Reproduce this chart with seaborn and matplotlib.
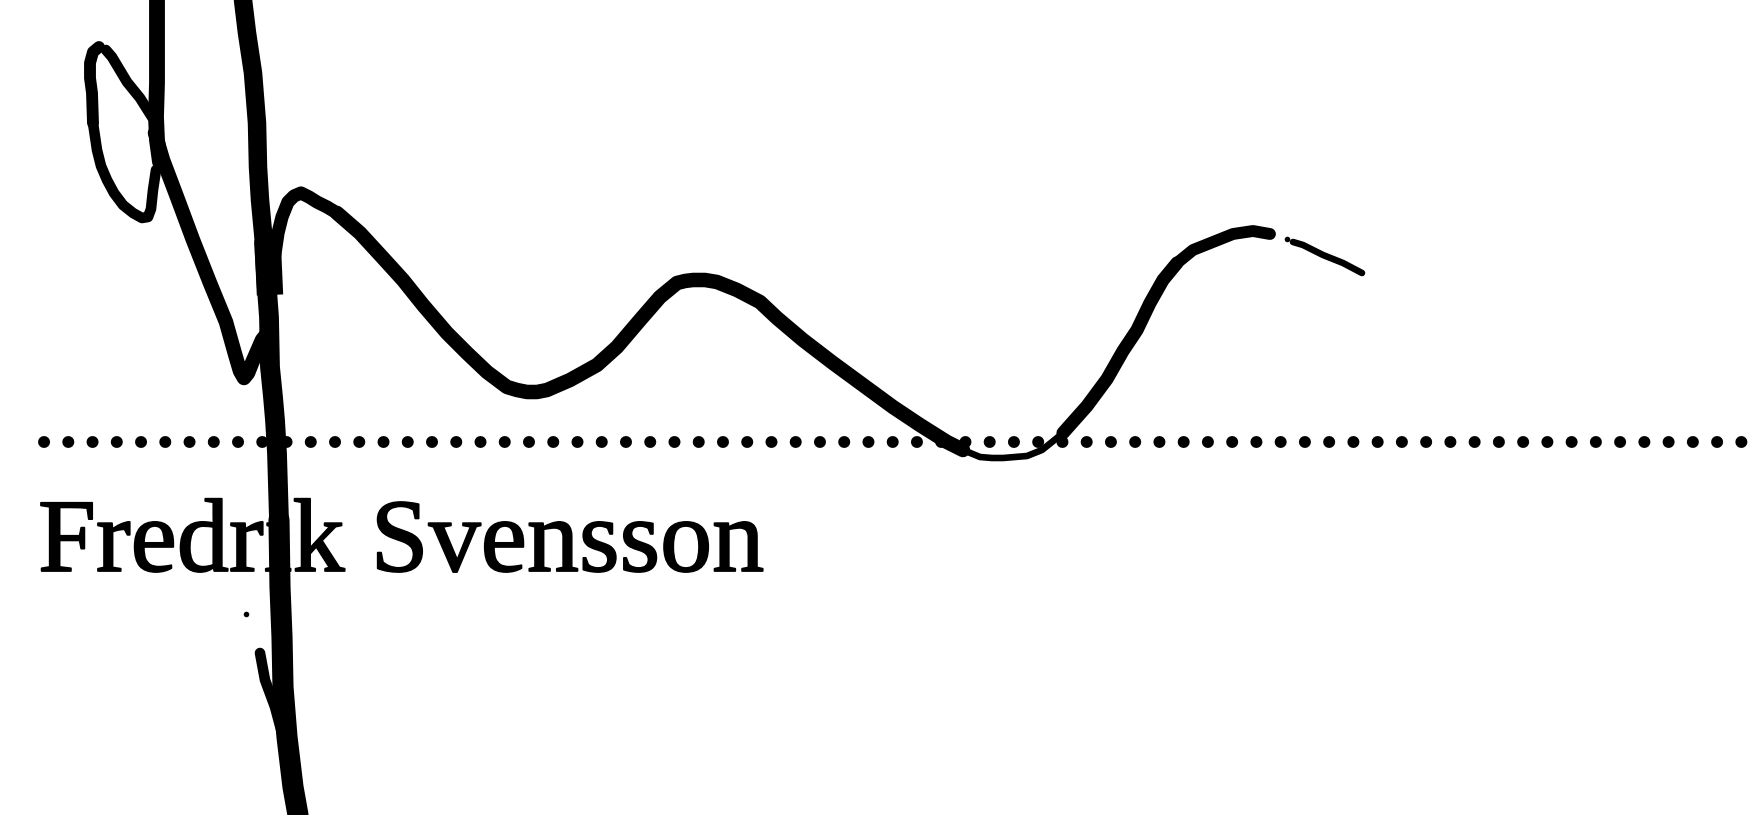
import matplotlib
matplotlib.use("Agg")
import matplotlib.pyplot as plt
import matplotlib.patheffects as pe
import seaborn as sns

sns.set_theme(style="white")

# signature strokes in pixels (y goes down)
top_x = [157, 157, 157, 156, 157, 160]
top_y = [0, 33, 83, 117, 140, 162]

loop_top_x = [152, 140, 127, 112, 106]
loop_top_y = [117, 98, 82, 57, 50]
loop_left_x = [99, 93, 90, 90, 92, 93]
loop_left_y = [47, 52, 63, 78, 93, 123]
loop_low_x = [93, 97, 101, 107, 114, 123, 133, 142, 148, 151, 153, 156]
loop_low_y = [123, 150, 166, 180, 193, 205, 213, 218, 217, 209, 190, 170]

diag_x = [155, 163, 177, 193, 210, 226, 235, 240, 244, 248, 252, 262, 270]
diag_y = [133, 160, 197, 240, 283, 322, 354, 371, 378, 373, 363, 340, 330]

down_top_x = [243, 247, 253, 257, 258, 260, 264]
down_top_y = [0, 33, 73, 123, 167, 200, 243]
block_x = [268, 270]
block_y = [250, 295]
down_mid_x = [264, 267, 269, 270, 273, 275, 277, 279]
down_mid_y = [243, 290, 317, 367, 397, 420, 453, 520]
down_low_x = [279, 280, 282, 283, 287, 293, 298]
down_low_y = [520, 587, 637, 687, 737, 787, 815]

tick_x = [260, 265, 275, 283]
tick_y = [653, 680, 707, 737]

join_x = [270, 273, 278, 282, 288, 294, 301, 309, 317, 327, 337]
join_y = [300, 267, 233, 217, 202, 196, 193, 197, 202, 207, 213]

wave_a_x = [337, 360, 383, 403, 423, 447, 467, 487, 507, 517, 527, 537, 547, 570, 597, 617, 640,
            660, 677, 685, 693, 705, 717, 737, 760, 777, 803, 833, 863, 893, 920, 947, 963]
wave_a_y = [213, 233, 258, 280, 305, 333, 353, 372, 387, 390, 392, 392, 390, 380, 365, 347, 320,
            297, 283, 281, 280, 280, 282, 290, 302, 318, 340, 363, 385, 407, 425, 442, 450]
wave_b_x = [963, 980, 992, 1003, 1015, 1027, 1042, 1052, 1063]
wave_b_y = [450, 457, 458, 458, 457, 456, 450, 442, 433]
wave_c_x = [1063, 1087, 1107, 1123, 1137, 1150, 1163, 1177]
wave_c_y = [433, 406, 379, 351, 330, 303, 280, 263]
wave_d_x = [1177, 1193, 1213, 1233, 1253, 1270]
wave_d_y = [263, 250, 242, 234, 231, 234]
tail_x = [1293, 1303, 1323, 1343, 1362]
tail_y = [242, 245, 255, 263, 273]

rule_x = [44, 1765]
rule_y = [441.5, 441.5]

speck_x = [246, 1287]
speck_y = [614, 239]

name = "Fredrik Svensson"

fig = plt.figure(figsize=(17.65, 8.15), dpi=100, facecolor="white")
ax = fig.add_axes([0, 0, 1, 1])


def stroke(x, y, px, cap="round"):
    sns.lineplot(x=x, y=y, ax=ax, sort=False, estimator=None, color="black",
                 linewidth=px * 0.95, solid_joinstyle="round", solid_capstyle=cap)


stroke(top_x, top_y, 12)
stroke(loop_top_x, loop_top_y, 8)
stroke(loop_left_x, loop_left_y, 9)
stroke(loop_low_x, loop_low_y, 8)
stroke(diag_x, diag_y, 11)
stroke(down_top_x, down_top_y, 14)
stroke(block_x, block_y, 20, cap="butt")
stroke(down_mid_x, down_mid_y, 15)
stroke(down_low_x, down_low_y, 16)
stroke(tick_x, tick_y, 8)
stroke(join_x, join_y, 10)
stroke(wave_a_x, wave_a_y, 11)
stroke(wave_b_x, wave_b_y, 5)
stroke(wave_c_x, wave_c_y, 10)
stroke(wave_d_x, wave_d_y, 9)
stroke(tail_x, tail_y, 5)

# dotted rule, about 24 px between dots
sns.lineplot(x=rule_x, y=rule_y, ax=ax, sort=False, estimator=None, color="black",
             linewidth=8.6, linestyle=(0, (0.01, 2.02)), dash_capstyle="round")
sns.scatterplot(x=speck_x, y=speck_y, ax=ax, color="black", s=16, linewidth=0)

# the thick down stroke sits over the name, so keep the text underneath
ax.text(38, 571, name, family="Liberation Serif", fontsize=75, color="black",
        ha="left", va="baseline", zorder=1,
        path_effects=[pe.withStroke(linewidth=1.3, foreground="black")])

ax.set_xlim(0, 1765)
ax.set_ylim(815, 0)
ax.axis("off")

fig.savefig("out.png", dpi=100, facecolor="white")
